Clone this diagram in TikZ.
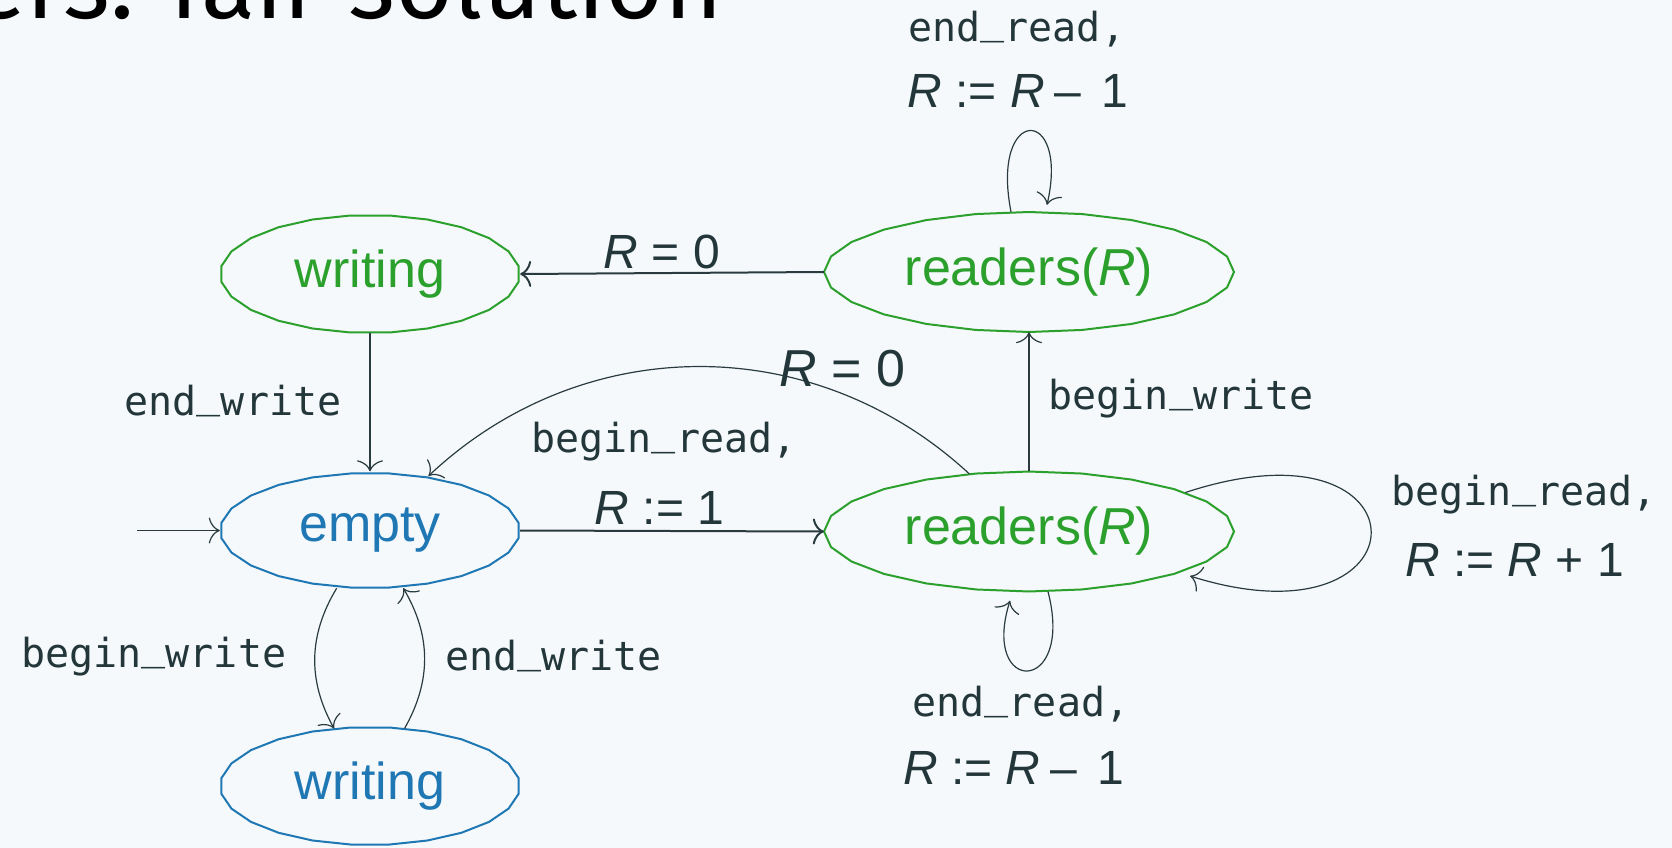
\documentclass[tikz,border=0pt]{standalone}
\usepackage{fontspec}
\setmainfont{Liberation Sans}
\newfontfamily\monof{DejaVu Sans Mono}
\newfontfamily\titlef{Fira Sans}
\usetikzlibrary{arrows.meta,shapes.geometric}
\definecolor{bgc}{HTML}{F5F9FC}
\definecolor{txtc}{HTML}{23373B}
\definecolor{edgec}{HTML}{2A3B40}
\definecolor{stgreen}{HTML}{2CA02C}
\definecolor{stblue}{HTML}{1F77B4}
\newcommand\us{\raisebox{0.2em}{\_}}
% node, rx, ry, colour, start angle of the polygon
\newcommand\polyell[5]{%
  \begin{scope}[shift={(#1.center)}]
    \draw[#4, line width=2pt, line join=round] plot[samples=25, domain=#5:#5+360] ({#2*cos(\x)},{#3*sin(\x)}) -- cycle;
  \end{scope}}
\tikzset{
  state/.style={ellipse, inner sep=0pt, draw=none, font=\fontsize{52}{60}\selectfont},
  wstate/.style={state, minimum width=300pt, minimum height=118pt},
  rstate/.style={state, minimum width=410pt, minimum height=120pt},
  arr/.style={draw=edgec, line width=1.2pt, -{To[length=11pt,width=26pt]}},
  harr/.style={arr, line width=2pt},
  mlab/.style={font=\monof\fontsize{40}{48}\selectfont, text=txtc, inner sep=0pt},
  slab/.style={font=\fontsize{48}{56}\selectfont, text=txtc, inner sep=0pt},
  blab/.style={font=\fontsize{52}{60}\selectfont, text=txtc, inner sep=0pt},
}
\begin{document}
\begin{tikzpicture}[x=1pt, y=-1pt]
\useasboundingbox (0,0) rectangle (1672,848);
\clip (0,0) rectangle (1672,848);
\fill[bgc] (0,0) rectangle (1672,848);

\node[font=\titlef\fontsize{100}{110}\selectfont, anchor=base east, inner sep=0pt] (title) at (723,18.3) {ers: fair solution};

\node[wstate, text=stgreen] (wt) at (370,274) {writing};
\node[rstate, text=stgreen] (rt) at (1029,272) {readers(\textit{R})};
\node[wstate, text=stblue] (em) at (370,530.5) {empty};
\node[rstate, text=stgreen] (rb) at (1029,531.5) {readers(\textit{R})};
\node[wstate, text=stblue] (wb) at (370,786) {writing};

\polyell{wt}{150}{59}{stgreen}{7.5}
\polyell{rt}{205}{60}{stgreen}{0}
\polyell{em}{150}{57.5}{stblue}{7.5}
\polyell{rb}{205}{60}{stgreen}{0}
\polyell{wb}{150}{59}{stblue}{7.5}

\coordinate (init) at (137,530.5);
\draw[arr] (init) -- (em.west);

\draw[harr] (em.east) -- (rb.west)
  node[slab, pos=0.5, anchor=base, xshift=-12.5pt, yshift=7pt] {\textit{R} := 1}
  node[mlab, pos=0.5, anchor=base, xshift=-8pt, yshift=79pt] {begin\us read,};

\draw[harr] (rt.west) -- (wt.east)
  node[slab, pos=0.5, anchor=base, xshift=-10pt, yshift=5pt] {\textit{R} = 0};

\draw[arr] (rb.north) -- (rt.south)
  node[mlab, pos=0.5, anchor=base west, xshift=19pt, yshift=-8pt] {begin\us write};

\draw[arr] (wt.south) -- (em.north)
  node[mlab, pos=0.5, anchor=base east, xshift=-28pt, yshift=-13.5pt] {end\us write};

\draw[arr] (em.240) to[bend right=30]
  node[mlab, anchor=base east, xshift=-28pt, yshift=-10pt] {begin\us write} (wb.122);

\draw[arr] (wb.59) to[bend right=30]
  node[mlab, anchor=base west, xshift=20pt, yshift=-12pt] {end\us write} (em.300);

\draw[arr] (rb.136) to[bend right=43]
  node[blab, anchor=base, xshift=144pt, yshift=-20pt] {\textit{R} = 0} (em.43);

\draw[arr] ([xshift=-18pt]rt.north) .. controls +(-21,-107) and +(23,-100) .. ([xshift=18pt,yshift=7pt]rt.north)
  node[pos=0.5, mlab, anchor=base, xshift=-13pt, yshift=89pt] {end\us read,}
  node[pos=0.5, slab, anchor=base, xshift=-12pt, yshift=23pt] {\textit{R} := \textit{R}\hspace{10pt}–\hspace{20pt}1};

\draw[arr] ([xshift=19pt]rb.south) .. controls +(27,104) and +(-30,95) .. ([xshift=-19pt,yshift=-9pt]rb.south)
  node[pos=0.5, mlab, anchor=base, xshift=-7pt, yshift=-46pt] {end\us read,}
  node[pos=0.5, slab, anchor=base, xshift=-14.5pt, yshift=-114pt] {\textit{R} := \textit{R}\hspace{10pt}–\hspace{20pt}1};

\draw[arr] (rb.14) .. controls +(248,-82) and +(241,76) .. ([xshift=161pt,yshift=-44.5pt]rb.center)
  node[pos=0.5, mlab, anchor=base west, xshift=20pt, yshift=27pt] {begin\us read,}
  node[pos=0.5, slab, anchor=base, xshift=143.5pt, yshift=-44pt] {\textit{R} := \textit{R} + 1};
\end{tikzpicture}
\end{document}
